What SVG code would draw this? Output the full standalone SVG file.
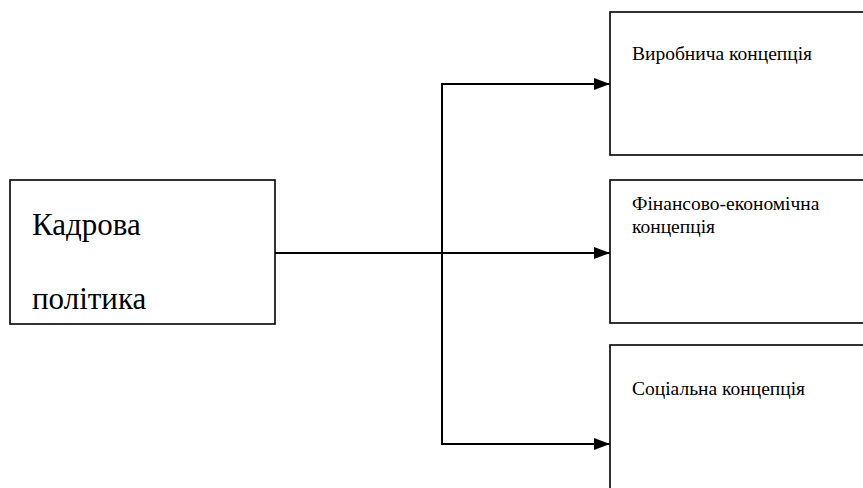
<svg xmlns="http://www.w3.org/2000/svg" width="863" height="488" viewBox="0 0 863 488">
<style>
.box{fill:#fff;stroke:#000;stroke-width:1.6}
text{font-family:'Liberation Serif','DejaVu Serif',serif;fill:#000}
.s{font-size:19.5px}
.b{font-size:31px}
.c{fill:none;stroke:#000;stroke-width:2}
</style>
<defs>
<marker id="ah" viewBox="0 0 16 12" refX="16" refY="6" markerWidth="16" markerHeight="12" markerUnits="userSpaceOnUse" orient="auto">
<path d="M0,0 L16,6 L0,12 Z" fill="#000"/>
</marker>
</defs>
<g id="node-kadrova">
<rect class="box" x="10" y="180" width="265" height="144"/>
<text class="b" x="32" y="235">Кадрова</text>
<text class="b" x="32" y="309">політика</text>
</g>
<g id="node-vyrobnycha">
<rect class="box" x="610" y="12" width="270" height="143"/>
<text class="s" x="632" y="60">Виробнича концепція</text>
</g>
<g id="node-finansovo">
<rect class="box" x="610" y="180" width="270" height="143"/>
<text class="s" x="632" y="210">Фінансово-економічна</text>
<text class="s" x="632" y="233">концепція</text>
</g>
<g id="node-sotsialna">
<rect class="box" x="610" y="345" width="270" height="160"/>
<text class="s" x="632" y="395">Соціальна концепція</text>
</g>
<g id="connectors">
<line class="c" x1="275" y1="253" x2="610" y2="253" marker-end="url(#ah)"/>
<line class="c" x1="442" y1="84" x2="442" y2="444"/>
<line class="c" x1="441" y1="84" x2="610" y2="84" marker-end="url(#ah)"/>
<line class="c" x1="441" y1="444" x2="610" y2="444" marker-end="url(#ah)"/>
</g>
</svg>
